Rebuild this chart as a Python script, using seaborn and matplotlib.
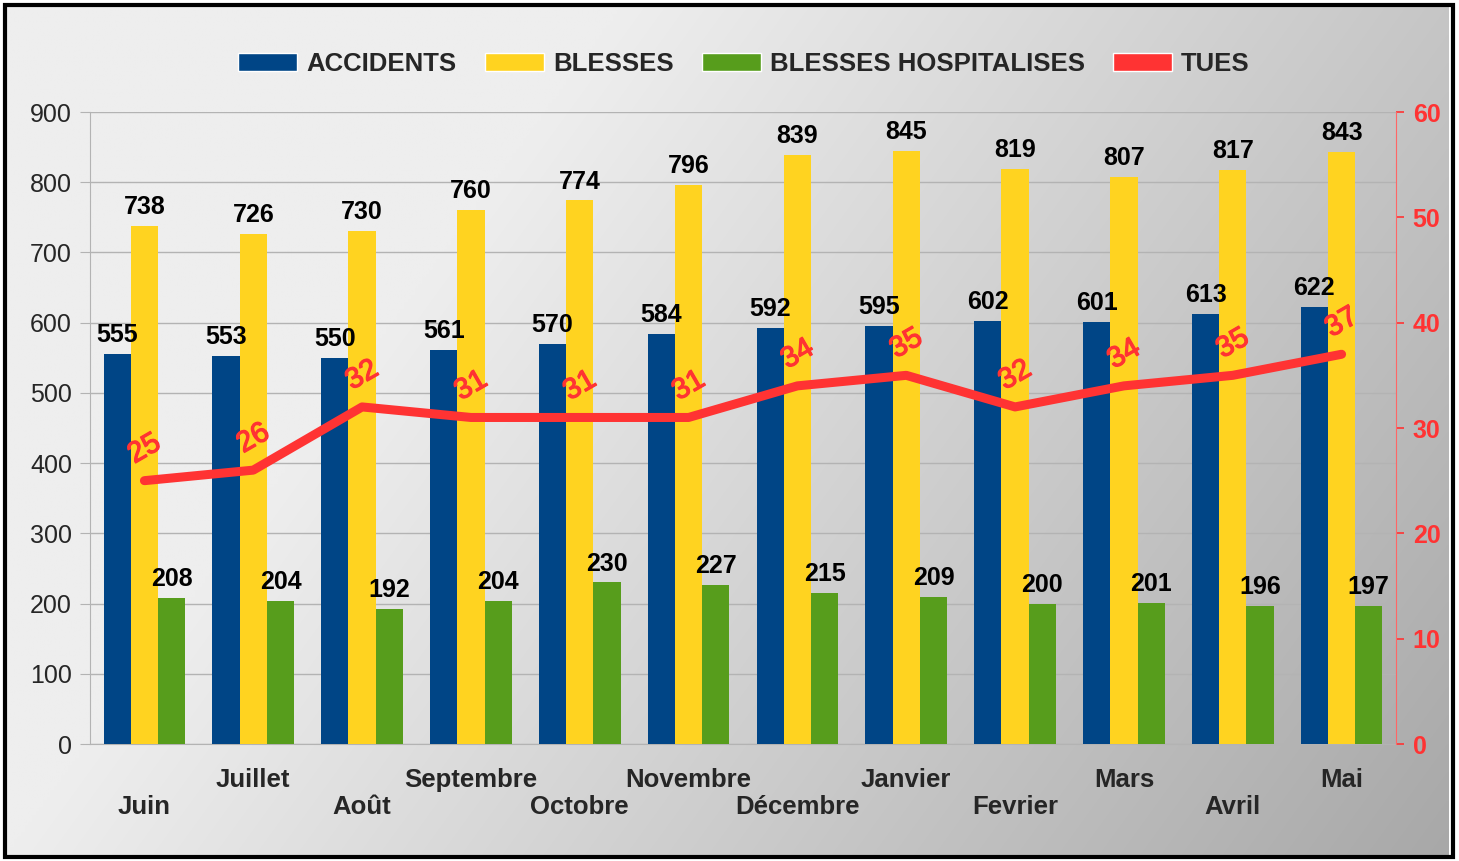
#!/usr/bin/env python3

import numpy as np
import pandas as pd
import matplotlib
matplotlib.use('Agg')
import matplotlib.pyplot as plt
import matplotlib.patheffects as pe
from matplotlib.patches import Patch, Rectangle
import seaborn as sns

mois = ['Juin', 'Juillet', 'Août', 'Septembre', 'Octobre', 'Novembre',
        'Décembre', 'Janvier', 'Fevrier', 'Mars', 'Avril', 'Mai']
accidents = [555, 553, 550, 561, 570, 584, 592, 595, 602, 601, 613, 622]
blesses = [738, 726, 730, 760, 774, 796, 839, 845, 819, 807, 817, 843]
hospitalises = [208, 204, 192, 204, 230, 227, 215, 209, 200, 201, 196, 197]
tues = [25, 26, 32, 31, 31, 31, 34, 35, 32, 34, 35, 37]

series = ['ACCIDENTS', 'BLESSES', 'BLESSES HOSPITALISES']
couleurs = ['#004586', '#ffd320', '#579d1c']
rouge = '#ff3333'
grille = '#b3b3b3'

sns.set_style('white')
plt.rcParams['font.family'] = ['Liberation Sans', 'DejaVu Sans']

df = pd.DataFrame({'mois': mois * 3,
                   'valeur': accidents + blesses + hospitalises,
                   'serie': sum([[s] * len(mois) for s in series], [])})
df_tues = pd.DataFrame({'pos': np.arange(len(mois)), 'tues': tues})

W, H = 1459, 861
fig = plt.figure(figsize=(W / 100, H / 100), dpi=100)
fig.patch.set_facecolor('white')

# fond en degrade + cadre noir
bg = fig.add_axes([0, 0, 1, 1], zorder=-10)
xx, yy = np.meshgrid(np.linspace(0, 1, 400), np.linspace(0, 1, 240))
u = 0.7 * xx + 0.3 * yy
val = 238 - 100 * np.clip(u - 0.3, 0, None)
img = np.dstack([val, val, val]) / 255.0
bg.imshow(img, aspect='auto', extent=[5 / W, 1 - 10 / W, 2 / H, 1 - 5 / H],
          origin='upper', interpolation='bilinear')
bg.add_patch(Rectangle((5 / W, 4 / H), 1 - 11 / W, 1 - 9 / H, fill=False,
                       edgecolor='black', lw=3, transform=bg.transAxes))
bg.set_xlim(0, 1)
bg.set_ylim(0, 1)
bg.axis('off')

ax = fig.add_axes([90 / W, 1 - 744 / H, (1396 - 90) / W, (744 - 112) / H])
ax.patch.set_alpha(0)
sns.barplot(data=df, x='mois', y='valeur', hue='serie', hue_order=series,
            palette=couleurs, saturation=1, width=0.75, ax=ax, legend=False,
            edgecolor='none', linewidth=0, zorder=3)
for c in ax.containers:
    ax.bar_label(c, padding=5, fontsize=18, fontweight='bold', color='black')

ax.set_ylim(0, 900)
ax.set_xlim(-0.5, len(mois) - 0.5)
ax.set_yticks(range(0, 901, 100))
ax.yaxis.grid(True, color=grille, lw=1, zorder=0)
ax.set_axisbelow(True)
ax.set_xlabel('')
ax.set_ylabel('')
for s in ['top', 'right']:
    ax.spines[s].set_visible(False)
for s in ['left', 'bottom']:
    ax.spines[s].set_color(grille)
ax.tick_params(axis='y', length=7, color=grille, labelsize=18, pad=6)
ax.set_xticks(np.arange(len(mois)))
ax.set_xticklabels(mois, fontsize=18.5, fontweight='bold')
ax.tick_params(axis='x', which='major', length=0)
ax.set_xticks(np.arange(-0.5, len(mois)), minor=True)
ax.tick_params(axis='x', which='minor', length=8, color=grille)
for i, tick in enumerate(ax.xaxis.get_major_ticks()):
    tick.set_pad(37 if i % 2 == 0 else 17)

ax2 = ax.twinx()
sns.lineplot(data=df_tues, x='pos', y='tues', ax=ax2, color=rouge, lw=6.5,
             legend=False)
ax2.set_ylim(0, 60)
ax2.set_yticks(range(0, 61, 10))
ax2.set_ylabel('')
ax2.tick_params(axis='y', colors=rouge, length=6, width=1.2, labelsize=18, pad=6)
for t in ax2.get_yticklabels():
    t.set_fontweight('bold')
for s in ['top', 'left', 'bottom']:
    ax2.spines[s].set_visible(False)
ax2.spines['right'].set_color('#ff6666')
for p, v in zip(df_tues['pos'], tues):
    ax2.annotate(str(v), (p, v), xytext=(0, 23), textcoords='offset points',
                 ha='center', va='center', rotation=30, fontsize=21,
                 color=rouge,
                 path_effects=[pe.withStroke(linewidth=0.9, foreground=rouge)])

handles = [Patch(facecolor=c) for c in couleurs] + [Patch(facecolor=rouge)]
fig.legend(handles, series + ['TUES'], loc='center', ncol=4,
           bbox_to_anchor=(0.51, 1 - 64 / H), frameon=False,
           prop={'size': 18.5, 'weight': 'bold'}, handlelength=2.3,
           handleheight=0.65, handletextpad=0.35, columnspacing=1.1)

fig.savefig('out.png', dpi=100)
